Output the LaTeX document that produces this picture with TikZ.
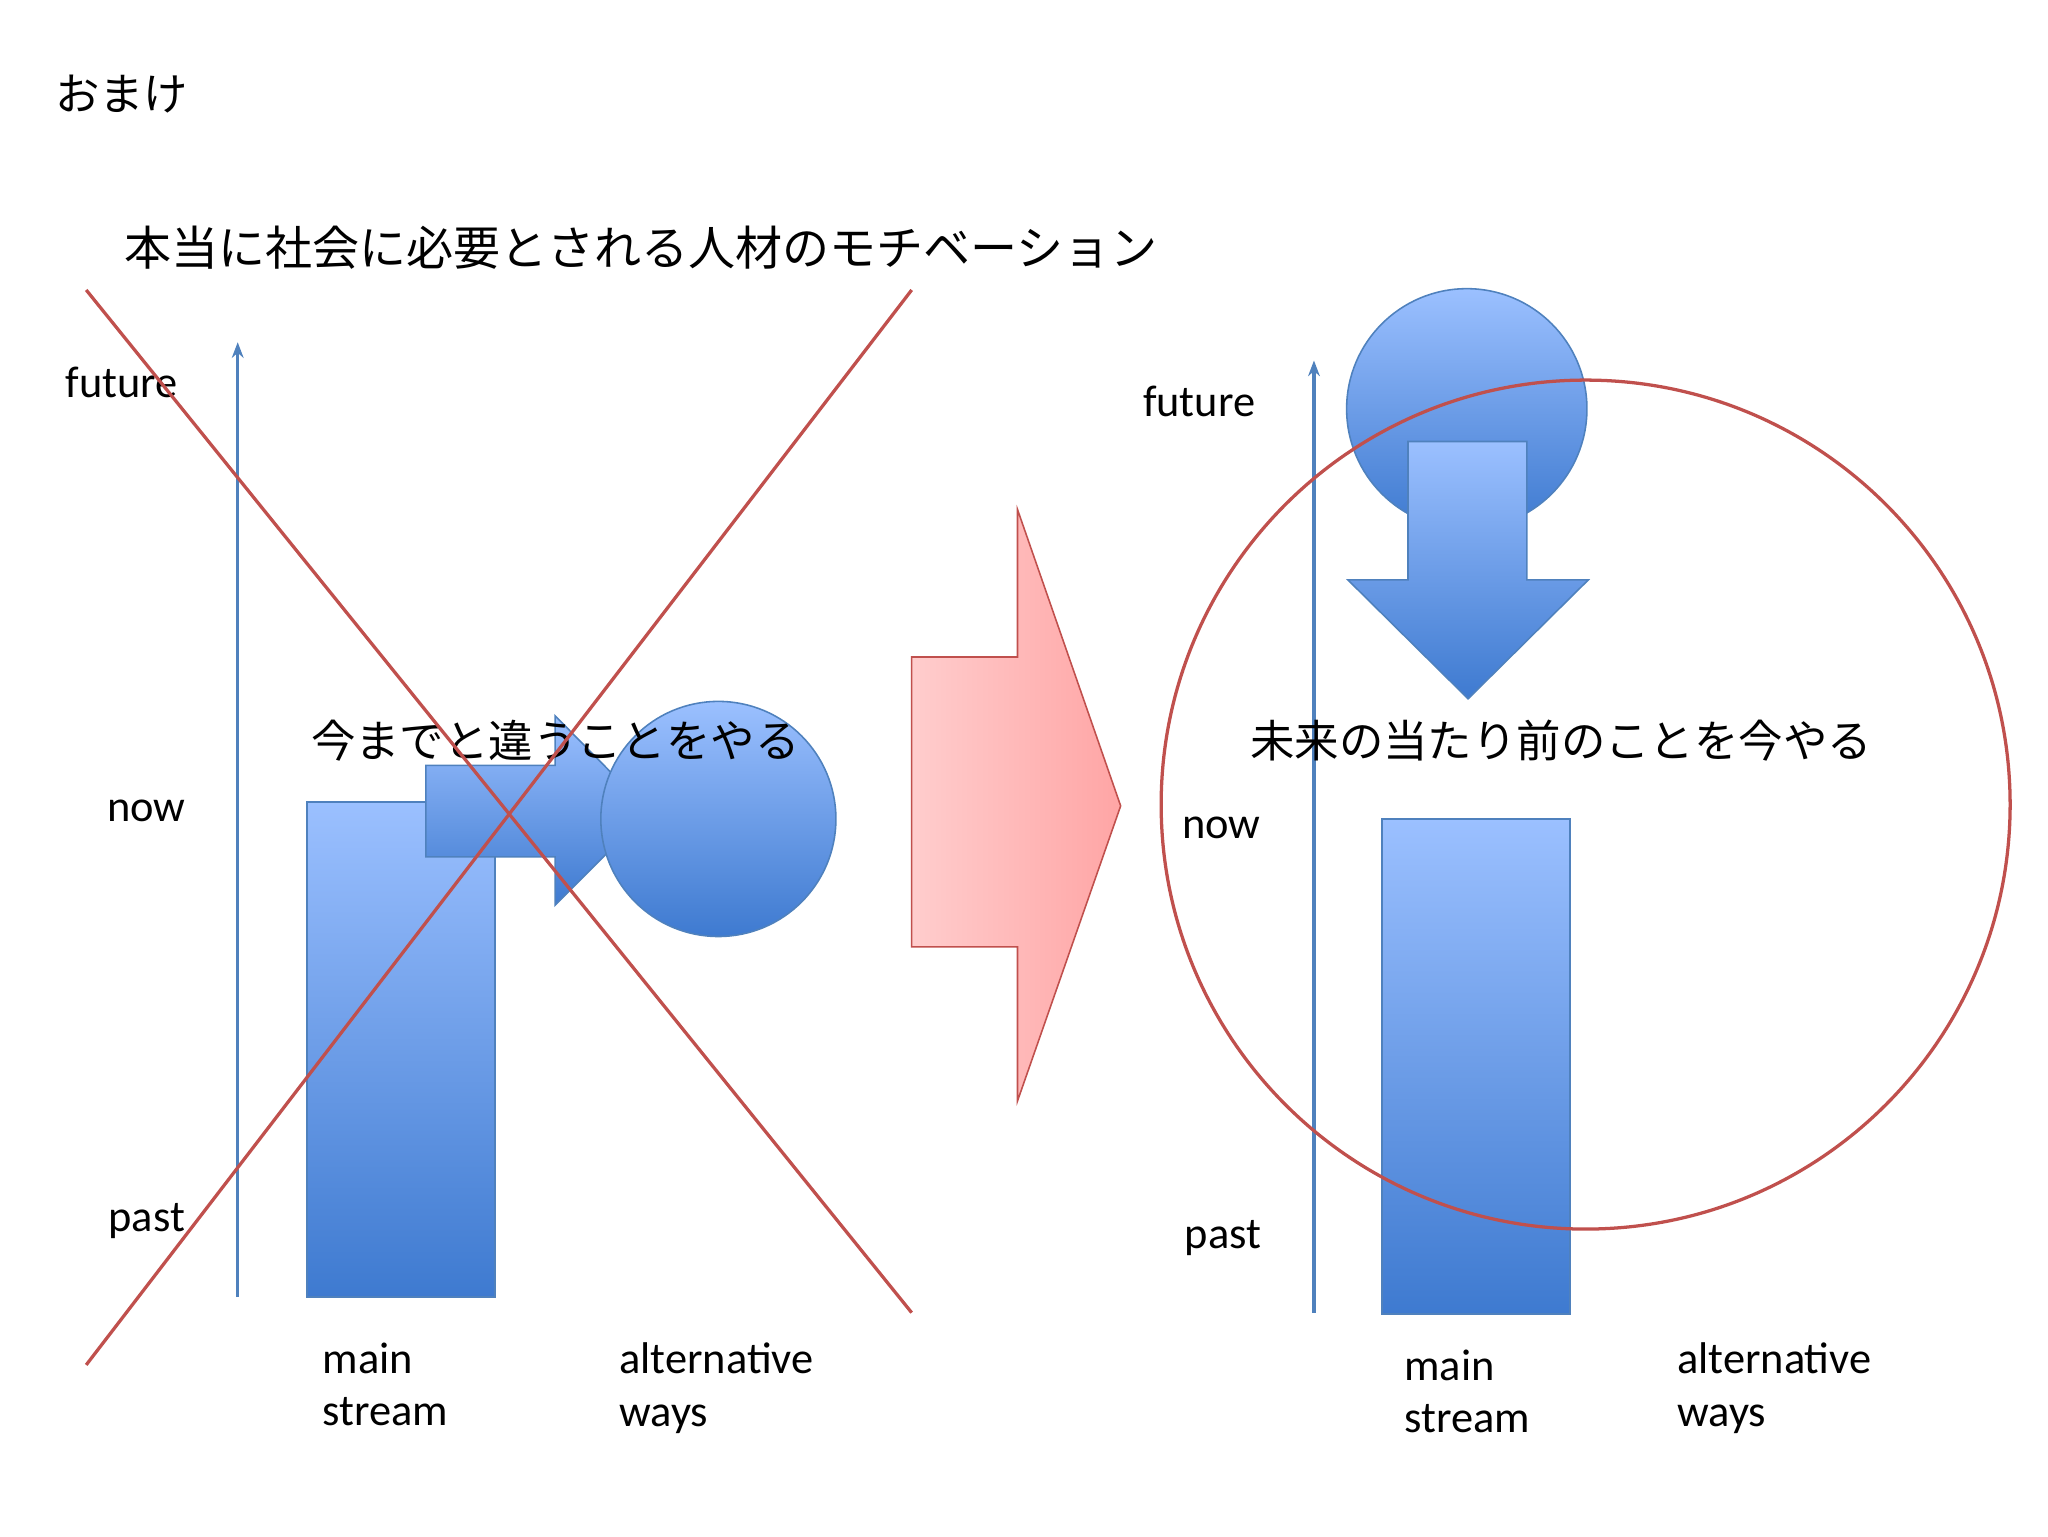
\documentclass[tikz,border=0pt]{standalone}
\usepackage{fontspec}
\usetikzlibrary{arrows.meta}
\setmainfont{Carlito}
\newfontfamily\jp{Noto Sans CJK JP}
\definecolor{bl}{RGB}{79,129,189}
\definecolor{lt}{RGB}{155,192,255}
\definecolor{dk}{RGB}{62,122,208}
\definecolor{rd}{RGB}{192,80,77}
\definecolor{pk1}{RGB}{255,205,205}
\definecolor{pk2}{RGB}{255,165,165}
\begin{document}
\begin{tikzpicture}[x=1pt,y=-1pt,
  shp/.style={draw=bl,line width=1.2pt,top color=lt,bottom color=dk},
  axis/.style={draw=bl,line width=2.5pt,-{Stealth[length=12pt,width=9pt]}},
  lbl/.style={font=\fontsize{34}{40}\selectfont,inner sep=0pt,anchor=west},
  jlbl/.style={font=\jp\fontsize{34}{40}\selectfont,inner sep=0pt,anchor=west},
  cross/.style={draw=rd,line width=2.5pt}]
\useasboundingbox (0,0) rectangle (1568,1176);
\node[jlbl] (om) at (42,72) {おまけ};
\node[jlbl,font=\jp\fontsize{36}{40}\selectfont] (ti) at (95,190) {本当に社会に必要とされる人材のモチベーション};
% left
\coordinate (la0) at (182,993); \coordinate (la1) at (182,262);
\draw[axis] (la0) -- (la1);
\node[lbl] (f1) at (50,293) {future};
\node[lbl] (n1) at (82,621) {now};
\node[lbl] (p1) at (83,935) {past};
\node[shp,rectangle,minimum width=144pt,minimum height=379pt,inner sep=0pt] (ms1) at (307,803.5) {};
\path[shp] (326,586) -- (425,586) -- (425,548) -- (497,621) -- (425,693) -- (425,656) -- (326,656) -- cycle;
\node[shp,circle,minimum size=180pt,inner sep=0pt] (c1) at (550,627) {};
\node[jlbl] (t1) at (238,567) {今までと違うことをやる};
\coordinate (x1) at (66,222); \coordinate (x2) at (698,1005);
\coordinate (x3) at (698,222); \coordinate (x4) at (66,1045);
\draw[cross] (x1) -- (x2); \draw[cross] (x3) -- (x4);
\node[lbl,align=left,anchor=north west] (m1) at (247,1028) {main\\stream};
\node[lbl,align=left,anchor=north west] (a1) at (474,1028) {alternative\\ways};
% big arrow
\path[draw=rd,line width=1.2pt,left color=pk1,right color=pk2] (698,503) -- (779,503) -- (779,390) -- (858,617) -- (779,843) -- (779,725) -- (698,725) -- cycle;
% right
\coordinate (ra0) at (1006,1005); \coordinate (ra1) at (1006,276);
\draw[axis] (ra0) -- (ra1);
\node[lbl] (f2) at (875,307) {future};
\node[lbl] (n2) at (905,634) {now};
\node[lbl] (p2) at (907,948) {past};
\node[shp,circle,minimum size=184pt,inner sep=0pt] (c2) at (1123,313) {};
\path[shp] (1078,338) -- (1169,338) -- (1169,444) -- (1216,444) -- (1124,535) -- (1032,444) -- (1078,444) -- cycle;
\node[jlbl] (t2) at (957,567) {未来の当たり前のことを今やる};
\node[shp,rectangle,minimum width=144pt,minimum height=379pt,inner sep=0pt] (ms2) at (1130,816.5) {};
\node[draw=rd,line width=2.5pt,circle,minimum size=650pt,inner sep=0pt] (bc) at (1214,616) {};
\node[lbl,align=left,anchor=north west] (m2) at (1075,1033) {main\\stream};
\node[lbl,align=left,anchor=north west] (a2) at (1284,1028) {alternative\\ways};
\end{tikzpicture}
\end{document}
